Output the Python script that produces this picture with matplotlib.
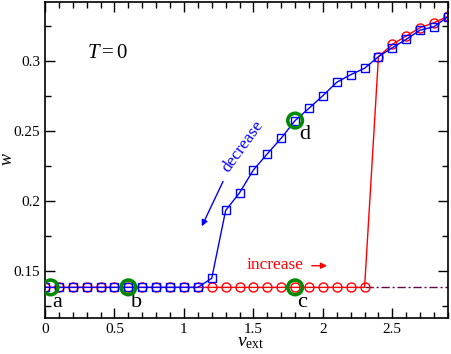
import numpy as np
import matplotlib
matplotlib.use('Agg')
import matplotlib.pyplot as plt
from matplotlib.ticker import MultipleLocator, FormatStrFormatter

plt.rcParams['font.family'] = ['Liberation Serif', 'DejaVu Serif']
plt.rcParams['mathtext.fontset'] = 'custom'
plt.rcParams['mathtext.rm'] = 'Liberation Serif'
plt.rcParams['mathtext.it'] = 'Liberation Serif:italic'

# decreasing v_ext (blue squares)
v_dec = [0.0, 0.1, 0.2, 0.3, 0.4, 0.5, 0.6, 0.7, 0.8, 0.9, 1.0, 1.1, 1.2, 1.3, 1.4,
         1.5, 1.6, 1.7, 1.8, 1.9, 2.0, 2.1, 2.2, 2.3, 2.4, 2.5, 2.6, 2.7, 2.8, 2.9]
w_dec = [0.1381] * 12 + [0.1446, 0.1931, 0.2057, 0.2221, 0.2336, 0.2448, 0.2574, 0.2662,
                         0.2752, 0.2848, 0.2902, 0.2948, 0.3031, 0.3095, 0.3155, 0.3221,
                         0.3245, 0.3317]

# increasing v_ext (red circles)
v_inc = [0.0, 0.1, 0.2, 0.3, 0.4, 0.5, 0.6, 0.7, 0.8, 0.9, 1.0, 1.1, 1.2, 1.3, 1.4,
         1.5, 1.6, 1.7, 1.8, 1.9, 2.0, 2.1, 2.2, 2.3, 2.4, 2.5, 2.6, 2.7, 2.8, 2.9]
w_inc = [0.1381] * 24 + [0.3031, 0.3119, 0.3179, 0.3238, 0.3274, 0.3320]

# flat reference line
v_flat = [2.3, 2.9]
w_flat = [0.1381, 0.1381]

# marked states a-d
pt_lab = ['a', 'b', 'c', 'd']
pt_v = [0.04, 0.6, 1.8, 1.8]
pt_w = [0.1381, 0.1381, 0.1381, 0.2574]
lab_v = [0.085, 0.66, 1.85, 1.87]
lab_w = [0.1275, 0.1275, 0.1275, 0.2475]

fig = plt.figure(figsize=(4.52, 3.54), dpi=100)
ax = fig.add_axes([0.0996, 0.1025, 0.8914, 0.8915])

ax.plot(v_flat, w_flat, color='#670748', lw=1.0, ls=(0, (6, 2, 1.5, 2)))
ax.plot(v_inc, w_inc, color='red', lw=1.0, marker='o', ms=6.5, mfc='none', mec='red', mew=1.0)
ax.plot(v_dec, w_dec, color='blue', lw=1.0, marker='s', ms=6, mfc='none', mec='blue', mew=1.0)
ax.scatter(pt_v, pt_w, s=110, facecolors='none', edgecolors='#008a00', linewidths=2.6, zorder=5)
for t, x, y in zip(pt_lab, lab_v, lab_w):
    ax.text(x, y, t, fontsize=16, ha='center', va='center')

ax.text(0.45, 0.3055, r'$T = 0$', fontsize=15, ha='center', va='center')

ax.text(1.42, 0.2386, 'decrease', color='blue', fontsize=12.5, rotation=54,
        ha='center', va='center', rotation_mode='anchor')
ax.annotate('', xy=(1.12, 0.18), xytext=(1.29, 0.2157),
            arrowprops=dict(arrowstyle='-|>', color='blue', lw=1.0, mutation_scale=9))
ax.text(1.655, 0.1543, 'increase', color='red', fontsize=12.5, ha='center', va='center')
ax.annotate('', xy=(2.05, 0.1536), xytext=(1.90, 0.1536),
            arrowprops=dict(arrowstyle='-|>', color='red', lw=1.0, mutation_scale=9))

ax.set_xlim(0, 2.9)
ax.set_ylim(0.1164, 0.3421)
ax.xaxis.set_major_locator(MultipleLocator(0.5))
ax.xaxis.set_minor_locator(MultipleLocator(0.1))
ax.yaxis.set_major_locator(MultipleLocator(0.05))
ax.yaxis.set_minor_locator(MultipleLocator(0.025))
ax.xaxis.set_major_formatter(FormatStrFormatter('%g'))
ax.yaxis.set_major_formatter(FormatStrFormatter('%g'))
ax.tick_params(which='both', direction='in', top=True, right=True, labelsize=11, width=1.0)
ax.tick_params(which='major', length=7)
ax.tick_params(which='minor', length=4)
for s in ax.spines.values():
    s.set_linewidth(1.2)

ax.set_xlabel(r'$v_{\mathrm{ext}}$', fontsize=14)
ax.xaxis.set_label_coords(0.51, -0.053)
fig.text(7 / 452, 0.55, r'$w$', fontsize=13, rotation=90, ha='center', va='center')

fig.savefig('out.png', dpi=100)
